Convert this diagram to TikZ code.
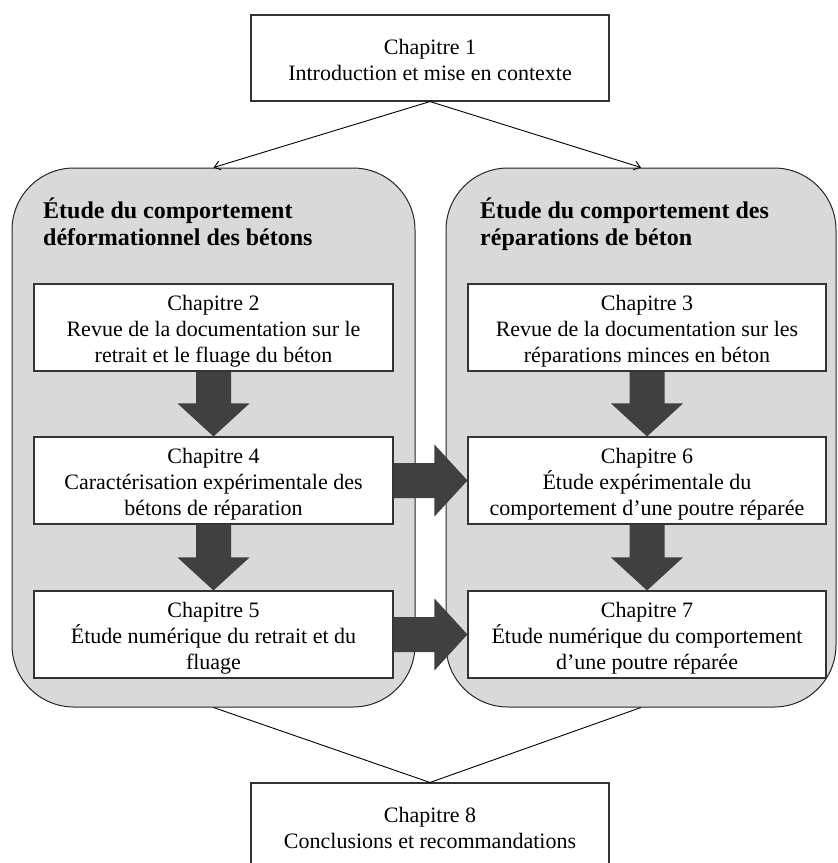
\documentclass[tikz,border=0pt]{standalone}
\usepackage{fontspec}
\setmainfont{Liberation Serif}
\usetikzlibrary{arrows.meta,calc}
\definecolor{panelgray}{HTML}{D9D9D9}
\definecolor{arrowgray}{HTML}{404040}
\newcommand{\mytopstrut}{\rule{0pt}{24pt}}
\newcommand{\mybotstrut}{\rule[-6pt]{0pt}{6pt}}
\newcommand{\myvblock}[2]{%
  \fill[blockarr] ($(#1.south)+(-17.5,0)$) -- ($(#1.south)+(17.5,0)$) -- ($(#2.north)+(17.5,-33)$) -- ($(#2.north)+(36,-33)$) -- (#2.north) -- ($(#2.north)+(-36,-33)$) -- ($(#2.north)+(-17.5,-33)$) -- cycle;}
\newcommand{\myhblock}[2]{%
  \fill[blockarr] ($(#1.east)+(0,-17.5)$) -- ($(#2.west)+(-33,-17.5)$) -- ($(#2.west)+(-33,-36)$) -- (#2.west) -- ($(#2.west)+(-33,36)$) -- ($(#2.west)+(-33,17.5)$) -- ($(#1.east)+(0,17.5)$) -- cycle;}
\begin{document}
\begin{tikzpicture}[x=1pt,y=-1pt,
  panel/.style={draw=black!85, line width=1pt, fill=panelgray, rounded corners=62pt, inner sep=0pt},
  chapbox/.style={draw=black!80, line width=1.1pt, fill=white, minimum width=359pt, minimum height=87pt, inner sep=0pt, align=center, font=\fontsize{22}{26}\selectfont},
  paneltitle/.style={anchor=base west, align=left, inner sep=0pt, font=\fontsize{24}{27}\selectfont\bfseries},
  conn/.style={draw=black, line width=0.9pt},
  blockarr/.style={fill=arrowgray}
]
\useasboundingbox (0,0) rectangle (838,863);

% panels
\node[panel, minimum width=403pt, minimum height=539pt] (pL) at (213.5,437.5) {};
\node[panel, minimum width=390pt, minimum height=539pt] (pR) at (641,437.5) {};

\node[paneltitle] (tL) at (43,245) {Étude du comportement\\déformationnel des bétons};
\node[paneltitle] (tR) at (480,245) {Étude du comportement des\\réparations de béton};

% chapter boxes
\node[chapbox, minimum width=358pt, minimum height=86pt] (c1) at (430,58) {\mytopstrut Chapitre 1\\Introduction et mise en contexte\mybotstrut};
\node[chapbox] (c2) at (213.5,327.5) {\mytopstrut Chapitre 2\\Revue de la documentation sur le\\retrait et le  fluage du béton\mybotstrut};
\node[chapbox] (c4) at (213.5,480.5) {\mytopstrut Chapitre 4\\Caractérisation expérimentale des\\bétons de réparation\mybotstrut};
\node[chapbox] (c5) at (213.5,634.5) {\mytopstrut Chapitre 5\\Étude numérique du retrait et du\\fluage\mybotstrut};
\node[chapbox, minimum width=358pt] (c3) at (647,327.5) {\mytopstrut Chapitre 3\\Revue de la documentation sur les\\réparations minces en béton\mybotstrut};
\node[chapbox, minimum width=358pt] (c6) at (647,480.5) {\mytopstrut Chapitre 6\\Étude expérimentale du\\comportement d’une poutre réparée\mybotstrut};
\node[chapbox, minimum width=358pt] (c7) at (647,634.5) {\mytopstrut Chapitre 7\\Étude numérique du comportement\\d’une poutre réparée\mybotstrut};
\node[chapbox, minimum width=358pt, minimum height=86pt] (c8) at (430,826) {\mytopstrut Chapitre 8\\Conclusions et recommandations\mybotstrut};

% block arrows
\myvblock{c2}{c4}
\myvblock{c4}{c5}
\myvblock{c3}{c6}
\myvblock{c6}{c7}
\myhblock{c4}{c6}
\myhblock{c5}{c7}

% thin connectors
\draw[conn, -{Straight Barb[length=6pt,width=9pt]}] (c1.south) -- (pL.north);
\draw[conn, -{Straight Barb[length=6pt,width=9pt]}] (c1.south) -- (pR.north);
\draw[conn] (pL.south) -- (c8.north) -- (pR.south);
\end{tikzpicture}
\end{document}
